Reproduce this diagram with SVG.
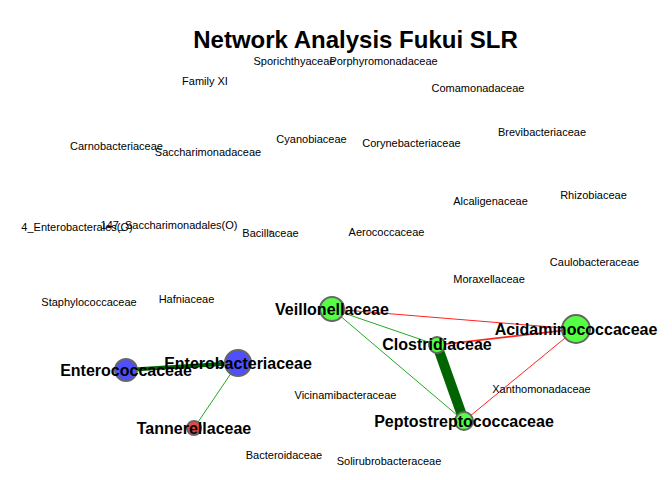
<svg xmlns="http://www.w3.org/2000/svg" width="672" height="480" viewBox="0 0 672 480">
<style>
text{font-family:"Liberation Sans",Arial,sans-serif;fill:#000;text-anchor:middle}
.t{font-size:24px;font-weight:bold}
.s{font-size:11px}
.b{font-size:16px;font-weight:bold}
.n{stroke:#666;stroke-width:2}
.g{fill:#55FF44}
.bl{fill:#4F4FFF}
.r{fill:#EE4444}
.er{stroke:#FF2222;fill:none}
.eg{stroke:#22AA22;fill:none}
.ed{stroke:#006400;fill:none}
</style>
<rect width="672" height="480" fill="#fff"/>
<text class="t" x="355.5" y="48">Network Analysis Fukui SLR</text>
<g id="connectors">
<line class="er" x1="332" y1="309" x2="576" y2="329" stroke-width="1"/>
<line class="eg" x1="332" y1="309" x2="437" y2="345" stroke-width="1"/>
<line class="eg" x1="332" y1="309" x2="464" y2="421" stroke-width="1"/>
<line class="er" x1="437" y1="345" x2="576" y2="329" stroke-width="1.6"/>
<line class="er" x1="576" y1="329" x2="464" y2="421" stroke-width="1"/>
<line class="ed" x1="437" y1="345" x2="464" y2="421" stroke-width="10"/>
<line class="ed" x1="126" y1="370" x2="238" y2="363" stroke-width="4"/>
<line class="eg" x1="238" y1="363" x2="194" y2="428" stroke-width="1"/>
</g>
<g id="n-veillonellaceae"><circle class="n g" cx="332" cy="309" r="12"/><text class="b" x="332" y="314.5">Veillonellaceae</text></g>
<g id="n-acidaminococcaceae"><circle class="n g" cx="576" cy="329" r="14"/><text class="b" x="576" y="334.5">Acidaminococcaceae</text></g>
<g id="n-clostridiaceae"><circle class="n g" cx="437" cy="345" r="8"/><text class="b" x="437" y="350">Clostridiaceae</text></g>
<g id="n-peptostreptococcaceae"><circle class="n g" cx="464" cy="421" r="9"/><text class="b" x="464" y="426.5">Peptostreptococcaceae</text></g>
<g id="n-enterobacteriaceae"><circle class="n bl" cx="238" cy="363" r="13"/><text class="b" x="238" y="368.5">Enterobacteriaceae</text></g>
<g id="n-enterococcaceae"><circle class="n bl" cx="126" cy="370" r="11"/><text class="b" x="126" y="375.5">Enterococcaceae</text></g>
<g id="n-tannerellaceae"><circle class="n r" cx="194" cy="428" r="7"/><text class="b" x="194" y="433.5">Tannerellaceae</text></g>
<g id="n-sporichthyaceae"><text class="s" x="294.5" y="65">Sporichthyaceae</text></g>
<g id="n-porphyromonadaceae"><text class="s" x="383.5" y="65">Porphyromonadaceae</text></g>
<g id="n-familyxi"><text class="s" x="205" y="85">Family XI</text></g>
<g id="n-comamonadaceae"><text class="s" x="478" y="92">Comamonadaceae</text></g>
<g id="n-carnobacteriaceae"><text class="s" x="116.5" y="150">Carnobacteriaceae</text></g>
<g id="n-saccharimonadaceae"><text class="s" x="208" y="156">Saccharimonadaceae</text></g>
<g id="n-cyanobiaceae"><text class="s" x="311.5" y="143">Cyanobiaceae</text></g>
<g id="n-corynebacteriaceae"><text class="s" x="411.5" y="147">Corynebacteriaceae</text></g>
<g id="n-brevibacteriaceae"><text class="s" x="542" y="136">Brevibacteriaceae</text></g>
<g id="n-alcaligenaceae"><text class="s" x="490.5" y="205">Alcaligenaceae</text></g>
<g id="n-rhizobiaceae"><text class="s" x="593.5" y="199">Rhizobiaceae</text></g>
<g id="n-enterobacterales"><text class="s" x="77" y="231">4_Enterobacterales(O)</text></g>
<g id="n-saccharimonadales"><text class="s" x="169" y="229">147_Saccharimonadales(O)</text></g>
<g id="n-bacillaceae"><circle cx="270.5" cy="232" r="2" fill="#EE4444" opacity="0.6"/><text class="s" x="270.5" y="237">Bacillaceae</text></g>
<g id="n-aerococcaceae"><text class="s" x="386.5" y="236">Aerococcaceae</text></g>
<g id="n-caulobacteraceae"><text class="s" x="594.5" y="266">Caulobacteraceae</text></g>
<g id="n-moraxellaceae"><text class="s" x="489" y="283">Moraxellaceae</text></g>
<g id="n-staphylococcaceae"><text class="s" x="89" y="306">Staphylococcaceae</text></g>
<g id="n-hafniaceae"><text class="s" x="186.5" y="303">Hafniaceae</text></g>
<g id="n-vicinamibacteraceae"><text class="s" x="345.5" y="399">Vicinamibacteraceae</text></g>
<g id="n-xanthomonadaceae"><text class="s" x="541.5" y="393">Xanthomonadaceae</text></g>
<g id="n-bacteroidaceae"><text class="s" x="284" y="459">Bacteroidaceae</text></g>
<g id="n-solirubrobacteraceae"><text class="s" x="389" y="465">Solirubrobacteraceae</text></g>
</svg>
